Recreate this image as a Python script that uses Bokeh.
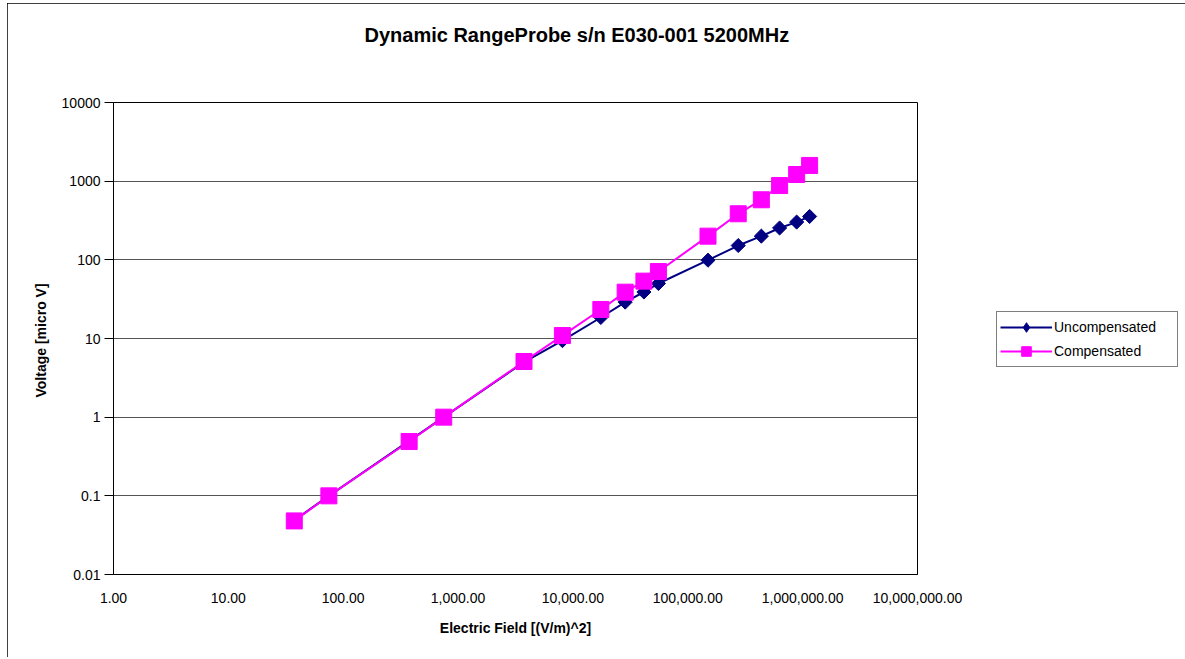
from bokeh.plotting import figure
from bokeh.models import (CustomJSTickFormatter, FixedTicker, Legend, LegendItem)
from bokeh.embed import file_html
from bokeh.resources import INLINE
import math

# ---- data ----
field = [37.5, 75, 375, 750, 3750, 8100, 17500, 28500, 41500, 55500,
         150000, 275000, 437000, 630000, 887000, 1150000]
uncompensated = [0.049, 0.1, 0.5, 1.0, 5.0, 9.4, 18.5, 29, 39, 50,
                 99, 152, 200, 254, 302, 356]
compensated = [0.048, 0.1, 0.49, 1.0, 5.1, 10.9, 23.4, 38.8, 53.6, 71,
               200, 385, 580, 880, 1215, 1585]
x_ticks = [1, 10, 100, 1000, 10000, 100000, 1000000, 10000000]
y_ticks = [0.01, 0.1, 1, 10, 100, 1000, 10000]
title_text = "Dynamic RangeProbe s/n E030-001 5200MHz"
x_label = "Electric Field [(V/m)^2]"
y_label = "Voltage  [micro V]"

FONT = "Liberation Sans"

p = figure(x_axis_type="log", y_axis_type="log",
           x_range=(1, 1e7), y_range=(0.01, 10000),
           frame_width=804, frame_height=472,
           min_border_left=106, min_border_right=265,
           min_border_top=99, min_border_bottom=83,
           output_backend="svg", toolbar_location=None)
p.margin = (3, 0, 0, 7)

p.background_fill_color = "white"
p.border_fill_color = "white"
p.outline_line_color = "black"
p.outline_line_width = 1
p.styles = {"outline": "1px solid black", "outline-offset": "-1px"}

# title (two blank lines below it keep it high above the frame)
p.title.text = title_text + "\n \n "
p.title.align = "left"
p.title.offset = 251
p.title.standoff = 26
p.title.text_font = FONT
p.title.text_font_size = "20px"
p.title.text_font_style = "bold"
p.title.text_color = "black"

# grids
p.xgrid.visible = False
p.ygrid.grid_line_color = "#555555"
p.ygrid.grid_line_width = 1
p.ygrid.ticker = FixedTicker(ticks=y_ticks)

# x axis
xa = p.xaxis[0]
xa.ticker = FixedTicker(ticks=x_ticks)
xa.formatter = CustomJSTickFormatter(code="""
return tick.toLocaleString('en-US', {minimumFractionDigits: 2, maximumFractionDigits: 2});
""")
xa.major_tick_out = 0
xa.major_tick_in = 0
xa.minor_tick_out = 0
xa.minor_tick_in = 0
xa.major_tick_line_color = None
xa.minor_tick_line_color = None
xa.axis_line_color = "black"
xa.major_label_standoff = 18
xa.major_label_text_font = FONT
xa.major_label_text_font_size = "14px"
xa.major_label_text_color = "black"
xa.axis_label = x_label
xa.axis_label_text_font = FONT
xa.axis_label_text_font_size = "14px"
xa.axis_label_text_font_style = "bold"
xa.axis_label_standoff = 14
xa.axis_label_text_color = "black"

# y axis
ya = p.yaxis[0]
ya.ticker = FixedTicker(ticks=y_ticks)
ya.formatter = CustomJSTickFormatter(code="""
return String(Number(tick.toPrecision(6)));
""")
ya.major_tick_out = 9
ya.major_tick_in = 0
ya.minor_tick_line_color = None
ya.minor_tick_out = 0
ya.minor_tick_in = 0
ya.major_tick_line_color = "black"
ya.axis_line_color = "black"
ya.major_label_standoff = 4
ya.major_label_text_font = FONT
ya.major_label_text_font_size = "14px"
ya.major_label_text_color = "black"
ya.axis_label = y_label
ya.axis_label_text_font = FONT
ya.axis_label_text_font_size = "14px"
ya.axis_label_text_font_style = "bold"
ya.axis_label_standoff = 10
ya.axis_label_text_color = "black"

NAVY = "#000080"
MAG = "#FF00FF"

l1 = p.line(field, uncompensated, line_color=NAVY, line_width=2)
m1 = p.scatter(field, uncompensated, marker="square", angle=math.pi / 4,
               size=10, fill_color=NAVY, line_color=NAVY)
l2 = p.line(field, compensated, line_color=MAG, line_width=2)
m2 = p.scatter(field, compensated, marker="square", size=16,
               fill_color=MAG, line_color=MAG)
# legend-only diamond glyph, placed outside the visible ranges
d1 = p.scatter(x=[1e-3], y=[1e-6], marker="diamond", size=12,
               fill_color=NAVY, line_color=NAVY)

legend = Legend(items=[LegendItem(label="Uncompensated", renderers=[l1, d1]),
                       LegendItem(label="Compensated", renderers=[l2, m2])],
                location=(79, 207))
legend.border_line_color = "black"
legend.border_line_width = 1
legend.background_fill_color = "white"
legend.background_fill_alpha = 1
legend.padding = 3
legend.spacing = 0
legend.margin = 0
legend.glyph_width = 52
legend.glyph_height = 24
legend.label_standoff = 2
legend.label_width = 120
legend.label_height = 24
legend.label_text_font = FONT
legend.label_text_font_size = "14px"
legend.label_text_color = "black"
p.add_layout(legend, "right")

open("out.html", "w").write(file_html(p, INLINE))
